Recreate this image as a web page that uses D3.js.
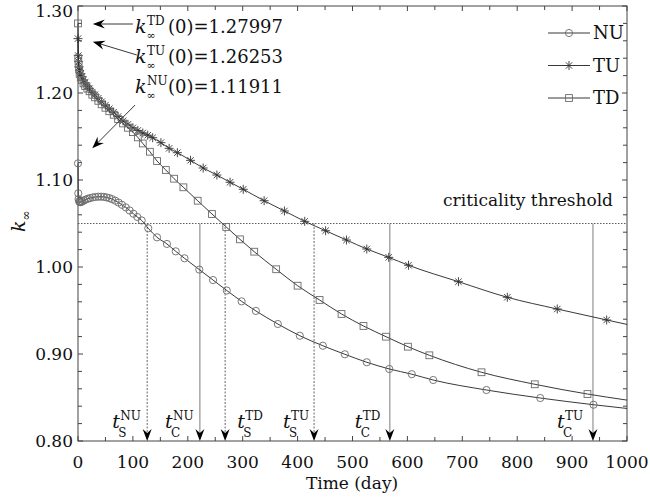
<!DOCTYPE html>
<html>
<head>
<meta charset="utf-8">
<script src="https://cdn.jsdelivr.net/npm/d3@7"></script>
<style>
body { margin: 0; background: #fff; }
</style>
</head>
<body>
<svg id="chart" width="650" height="500" font-family="'DejaVu Serif', 'Liberation Serif', 'Times New Roman', serif"></svg>
<script>

// values (time in days, k-infinity)
const nuTime = [0, 0.5, 1, 2, 3, 4, 6, 8, 11, 14, 18, 22, 27, 32, 37, 42, 47, 52, 57, 62, 68, 74, 80, 87, 94, 101, 108, 116, 128, 144, 162, 178, 194, 221, 246, 271, 298, 324, 364, 404, 446, 486, 526, 567, 608, 647, 744, 842, 939];
const nuK = [1.1191, 1.0847, 1.0780, 1.0755, 1.0748, 1.0745, 1.0748, 1.0755, 1.0765, 1.0775, 1.0785, 1.0792, 1.0800, 1.0805, 1.0808, 1.0808, 1.0806, 1.0800, 1.0792, 1.0780, 1.0762, 1.0740, 1.0715, 1.0685, 1.0650, 1.0612, 1.0575, 1.0535, 1.0445, 1.0341, 1.0265, 1.0180, 1.0100, 0.9970, 0.9850, 0.9730, 0.9605, 0.9495, 0.9345, 0.9210, 0.9095, 0.8997, 0.8905, 0.8828, 0.8768, 0.8701, 0.8586, 0.8494, 0.8417];

const tuTime = [0, 0.5, 1, 2, 3, 5, 7, 10, 13, 17, 21, 26, 31, 37, 43, 50, 57, 65, 73, 82, 91, 100, 109, 118, 127, 136, 151, 166, 181, 205, 228, 253, 277, 301, 339, 376, 413, 451, 489, 526, 566, 602, 693, 782, 873, 963];
const tuK = [1.2625, 1.2430, 1.2360, 1.2300, 1.2260, 1.2220, 1.2190, 1.2150, 1.2120, 1.2080, 1.2050, 1.2010, 1.1980, 1.1940, 1.1900, 1.1860, 1.1820, 1.1780, 1.1730, 1.1680, 1.1640, 1.1600, 1.1570, 1.1540, 1.1515, 1.1486, 1.1429, 1.1364, 1.1314, 1.1226, 1.1138, 1.1057, 1.0974, 1.0893, 1.0762, 1.0644, 1.0525, 1.0417, 1.0310, 1.0207, 1.0111, 1.0020, 0.9831, 0.9652, 0.9517, 0.9391];

const tdTime = [0, 0.5, 1, 2, 3, 5, 7, 10, 13, 17, 21, 26, 31, 37, 43, 50, 57, 65, 73, 82, 91, 100, 109, 118, 131, 144, 160, 175, 192, 218, 244, 270, 295, 321, 361, 400, 440, 480, 520, 561, 601, 640, 735, 832, 928];
const tdK = [1.2800, 1.2400, 1.2330, 1.2270, 1.2220, 1.2180, 1.2150, 1.2110, 1.2080, 1.2050, 1.2020, 1.1980, 1.1950, 1.1910, 1.1870, 1.1830, 1.1790, 1.1750, 1.1700, 1.1650, 1.1600, 1.1550, 1.1490, 1.1420, 1.1325, 1.1218, 1.1115, 1.1015, 1.0916, 1.0762, 1.0609, 1.0460, 1.0318, 1.0176, 0.9974, 0.9785, 0.9621, 0.9460, 0.9322, 0.9199, 0.9084, 0.8985, 0.8790, 0.8652, 0.8540];

// where each line leaves the right edge (t = 1000)
const nuEnd = 0.8374, tuEnd = 0.9340, tdEnd = 0.8470;

const seriesNames = ["NU", "TU", "TD"];
const initialK = [1.11911, 1.26253, 1.27997];

const threshold = 1.05;
const arrowTimes = [126, 222, 268, 430, 568, 938];
const arrowKind = ["S", "C", "S", "S", "C", "C"];
const arrowCase = ["NU", "NU", "TD", "TU", "TD", "TU"];
const arrowLabelDx = [-35, -35, 12, -31, -35, -36];

const xTicks = [0, 100, 200, 300, 400, 500, 600, 700, 800, 900, 1000];
const yTicks = [0.80, 0.90, 1.00, 1.10, 1.20, 1.30];

var svg = d3.select("#chart");
svg.append("rect").attr("width", 650).attr("height", 500).attr("fill", "#fff");

var x = d3.scaleLinear().domain([0, 1000]).range([78, 627]);
var y = d3.scaleLinear().domain([0.8, 1.3]).range([441, 6]);

const frameColor = "#444";
const textColor = "#111";

// frame
svg.append("rect")
    .attr("x", x(0)).attr("y", y(1.3))
    .attr("width", x(1000) - x(0)).attr("height", y(0.8) - y(1.3))
    .attr("fill", "none").attr("stroke", frameColor).attr("stroke-width", 1);

// inward ticks on all four sides
var xMinor = d3.range(0, 1001, 50);
var yMinor = d3.range(0, 26).map(i => 0.8 + i * 0.02);
var tickG = svg.append("g").attr("stroke", frameColor).attr("stroke-width", 1);
xMinor.forEach(function(t){
    var len = (t % 100 == 0) ? 5 : 4;
    tickG.append("line").attr("x1", x(t)).attr("x2", x(t)).attr("y1", y(0.8)).attr("y2", y(0.8) - len);
    tickG.append("line").attr("x1", x(t)).attr("x2", x(t)).attr("y1", y(1.3)).attr("y2", y(1.3) + len);
});
yMinor.forEach(function(v, i){
    var len = (i % 5 == 0) ? 5 : 4;
    tickG.append("line").attr("x1", x(0)).attr("x2", x(0) + len).attr("y1", y(v)).attr("y2", y(v));
    tickG.append("line").attr("x1", x(1000)).attr("x2", x(1000) - len).attr("y1", y(v)).attr("y2", y(v));
});

// tick labels
svg.append("g").attr("fill", textColor).selectAll("text")
    .data(xTicks).enter().append("text")
    .attr("x", d => x(d))
    .attr("y", 468)
    .attr("text-anchor", "middle")
    .attr("font-size", 17)
    .text(d => d);

svg.append("g").attr("fill", textColor).selectAll("text")
    .data(yTicks).enter().append("text")
    .attr("x", 73)
    .attr("y", d => y(d) + (d > 1.25 ? 5 : 0))
    .attr("dy", "0.35em")
    .attr("text-anchor", "end")
    .attr("font-size", 17)
    .text(d => d3.format(".2f")(d));

// axis titles
svg.append("text")
    .attr("x", 352).attr("y", 489)
    .attr("text-anchor", "middle")
    .attr("font-size", 17).attr("fill", textColor)
    .text("Time (day)");

var yLab = svg.append("text")
    .attr("transform", "translate(25,232) rotate(-90)")
    .attr("font-size", 19).attr("fill", textColor);
yLab.append("tspan").attr("font-style", "italic").text("k");
yLab.append("tspan").attr("dy", 5).attr("font-size", 12).text("\u221e");

// criticality threshold
svg.append("line")
    .attr("x1", x(0)).attr("x2", x(1000))
    .attr("y1", y(threshold)).attr("y2", y(threshold))
    .attr("stroke", "#333").attr("stroke-width", 0.8)
    .attr("stroke-dasharray", "1.5,1.5");
svg.append("text")
    .attr("x", 613).attr("y", 206)
    .attr("text-anchor", "end")
    .attr("font-size", 17).attr("fill", textColor)
    .text("criticality threshold");

function arrowHead(g, px, py, angle){
    g.append("path")
        .attr("d", "M0,0 L-12,-4.5 L-8,0 L-12,4.5 Z")
        .attr("transform", "translate(" + px + "," + py + ") rotate(" + angle + ")")
        .attr("fill", "#000");
}

// vertical arrows down to the time axis
arrowTimes.forEach(function(t, i){
    var g = svg.append("g").attr("fill", textColor);
    g.append("line")
        .attr("x1", x(t)).attr("x2", x(t))
        .attr("y1", y(threshold)).attr("y2", y(0.8) - 6)
        .attr("stroke", arrowKind[i] == "S" ? "#555" : "#888")
        .attr("stroke-width", arrowKind[i] == "S" ? 0.9 : 1.1)
        .attr("stroke-dasharray", arrowKind[i] == "S" ? "2,1.5" : null);
    arrowHead(g, x(t), y(0.8), 90);

    var lx = x(t) + arrowLabelDx[i];
    g.append("text").attr("x", lx).attr("y", 428)
        .attr("font-size", 19).attr("font-style", "italic").text("t");
    g.append("text").attr("x", lx + 8).attr("y", 420)
        .attr("font-size", 12).text(arrowCase[i]);
    g.append("text").attr("x", lx + 6).attr("y", 437)
        .attr("font-size", 12).text(arrowKind[i]);
});

// curves
var line = d3.line()
    .x(d => x(d[0]))
    .y(d => y(d[1]))
    .curve(d3.curveMonotoneX);

function zip(ts, ks){ return ts.map((t, i) => [t, ks[i]]); }
var nuData = zip(nuTime, nuK), tuData = zip(tuTime, tuK), tdData = zip(tdTime, tdK);

var markerColor = "#6a6a6a";

function drawMarker(g, kind, px, py){
    if(kind == "NU"){
        g.append("circle").attr("cx", px).attr("cy", py).attr("r", 3.6)
            .attr("fill", "none").attr("stroke", markerColor).attr("stroke-width", 0.9);
    } else if(kind == "TD"){
        g.append("rect").attr("x", px - 3.4).attr("y", py - 3.4)
            .attr("width", 6.8).attr("height", 6.8)
            .attr("fill", "none").attr("stroke", markerColor).attr("stroke-width", 0.9);
    } else {
        g.append("path")
            .attr("d", "M" + (px-4.5) + "," + py + "h9 M" + px + "," + (py-4.5) + "v9" +
                " M" + (px-3.2) + "," + (py-3.2) + "l6.4,6.4 M" + (px-3.2) + "," + (py+3.2) + "l6.4,-6.4")
            .attr("stroke", "#333").attr("stroke-width", 0.9).attr("fill", "none");
    }
}

[["NU", nuData, nuEnd], ["TU", tuData, tuEnd], ["TD", tdData, tdEnd]].forEach(function(s){
    var g = svg.append("g");
    g.append("path")
        .datum(s[1].concat([[1000, s[2]]]))
        .attr("fill", "none")
        .attr("stroke", "#222")
        .attr("stroke-width", 0.9)
        .attr("d", line);
    s[1].forEach(d => drawMarker(g, s[0], x(d[0]), y(d[1])));
});

// legend
seriesNames.forEach(function(name, i){
    var ly = 33 + i * 32.5;
    var g = svg.append("g");
    g.append("line").attr("x1", 548).attr("x2", 590).attr("y1", ly).attr("y2", ly)
        .attr("stroke", "#222").attr("stroke-width", 0.9);
    drawMarker(g, name, 569, ly);
    g.append("text").attr("x", 593).attr("y", ly).attr("dy", "0.35em")
        .attr("font-size", 18).attr("fill", textColor).text(name);
});

// initial-value annotations
const annFrom = [[100, 1.2793], [107, 1.2437], [104, 1.1862]];
const annTo = [[27, 1.2793], [27, 1.2590], [26, 1.1364]];
const annBaseline = [33, 63, 93];
const annCase = ["TD", "TU", "NU"];
const annValue = [initialK[2], initialK[1], initialK[0]];

annCase.forEach(function(c, i){
    var g = svg.append("g").attr("fill", textColor);
    var x1 = x(annFrom[i][0]), y1 = y(annFrom[i][1]);
    var x2 = x(annTo[i][0]), y2 = y(annTo[i][1]);
    var ang = Math.atan2(y2 - y1, x2 - x1);
    g.append("line")
        .attr("x1", x1).attr("y1", y1)
        .attr("x2", x2 - 7 * Math.cos(ang)).attr("y2", y2 - 7 * Math.sin(ang))
        .attr("stroke", "#222").attr("stroke-width", 0.9);
    arrowHead(g, x2, y2, ang * 180 / Math.PI);

    var bx = 135, by = annBaseline[i];
    g.append("text").attr("x", bx).attr("y", by)
        .attr("font-size", 19).attr("font-style", "italic").text("k");
    g.append("text").attr("x", bx + 12).attr("y", by - 8)
        .attr("font-size", 12).text(c);
    g.append("text").attr("x", bx + 11.5).attr("y", by + 6)
        .attr("font-size", 11).text("\u221e");
    g.append("text").attr("x", 168).attr("y", by)
        .attr("font-size", 18).text("(0)=" + d3.format(".5f")(annValue[i]));
});

</script>
</body>
</html>
